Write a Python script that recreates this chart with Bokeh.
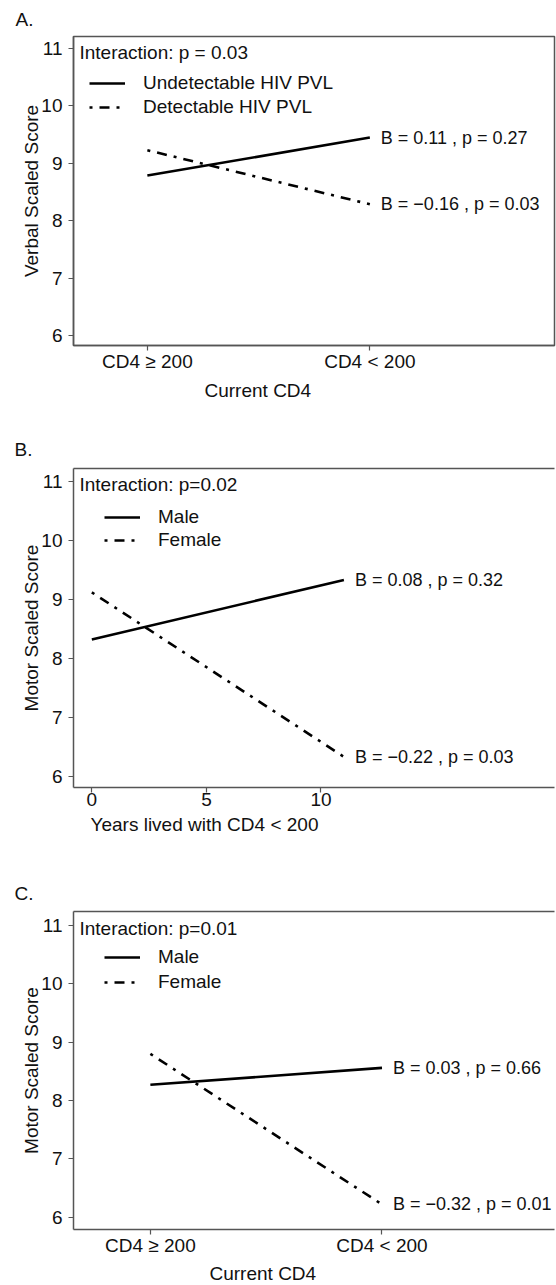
from bokeh.plotting import figure
from bokeh.models import Range1d, FixedTicker, LinearAxis, Legend, LegendItem, Label, Title
from bokeh.layouts import column
from bokeh.embed import file_html
from bokeh.resources import INLINE
from bokeh.core.properties import value

FONT = "Liberation Sans"
FS = "19px"
NOTE_FS = "18px"
GRAY = "#555555"
TXT = "#111111"
DASHDOT = "3 7 10 7"

# ---------------- data ----------------
# Panel A
a_x = [0, 1]
a_tick_labels = ["CD4 \u2265 200", "CD4 < 200"]
a_undetectable = [8.79, 9.45]
a_detectable = [9.23, 8.29]
a_series_names = ["Undetectable HIV PVL", "Detectable HIV PVL"]
a_notes = ["B = 0.11 , p = 0.27", "B = \u22120.16 , p = 0.03"]
a_interaction = "Interaction: p = 0.03"

# Panel B
b_years = [0, 11]
b_ticks = [0, 5, 10]
b_male = [8.32, 9.33]
b_female = [9.12, 6.33]
b_series_names = ["Male", "Female"]
b_notes = ["B = 0.08 , p = 0.32", "B = \u22120.22 , p = 0.03"]
b_interaction = "Interaction: p=0.02"

# Panel C
c_x = [0, 1]
c_tick_labels = ["CD4 \u2265 200", "CD4 < 200"]
c_male = [8.27, 8.56]
c_female = [8.80, 6.22]
c_series_names = ["Male", "Female"]
c_notes = ["B = 0.03 , p = 0.66", "B = \u22120.32 , p = 0.01"]
c_interaction = "Interaction: p=0.01"

y_ticks = [6, 7, 8, 9, 10, 11]


def make_panel(letter, xs, ys1, ys2, names, notes, interaction, xticks, xlabels,
               ylabel, xtitle, xr, yr, W, H, borders, legend_xy, legend_spacing,
               letter_offset, letter_standoff, xtitle_offset, xtitle_standoff,
               inter_yoff, outline):
    left, right, top, bottom = borders
    p = figure(width=W, height=H, x_range=Range1d(*xr), y_range=Range1d(*yr),
               output_backend="svg", toolbar_location=None,
               min_border_left=left, min_border_right=right,
               min_border_top=top, min_border_bottom=bottom)
    p.grid.visible = False
    p.background_fill_color = "white"
    p.border_fill_color = "white"

    xa = p.xaxis[0]
    ya = p.yaxis[0]
    for ax in (xa, ya):
        ax.axis_line_color = GRAY
        ax.axis_line_width = 1.5
        ax.major_tick_line_color = GRAY
        ax.major_tick_line_width = 1.2
        ax.major_tick_in = 0
        ax.major_tick_out = 5
        ax.minor_tick_line_color = None
        ax.major_label_text_font = FONT
        ax.major_label_text_font_size = FS
        ax.major_label_text_color = TXT
    xa.ticker = FixedTicker(ticks=xticks)
    if xlabels is not None:
        xa.major_label_overrides = {t: l for t, l in zip(xticks, xlabels)}
    xa.major_label_standoff = 0
    ya.ticker = FixedTicker(ticks=y_ticks)
    ya.major_label_standoff = 6
    ya.axis_label = ylabel
    ya.axis_label_text_font = FONT
    ya.axis_label_text_font_size = FS
    ya.axis_label_text_font_style = "normal"
    ya.axis_label_text_color = TXT
    ya.axis_label_standoff = -4

    if outline:
        p.outline_line_color = GRAY
        p.outline_line_width = 1.5
    else:
        # frame runs past the right edge: draw only its top border
        p.outline_line_color = None
        top_axis = LinearAxis(ticker=FixedTicker(ticks=[]), major_label_text_font_size="0px",
                              major_tick_out=0, major_tick_in=0, minor_tick_out=0, minor_tick_in=0,
                              major_label_standoff=0, axis_line_color=GRAY, axis_line_width=1.5)
        p.add_layout(top_axis, "above")

    r1 = p.line(xs, ys1, line_color="black", line_width=2.6)
    r2 = p.line(xs, ys2, line_color="black", line_width=2.6, line_dash=DASHDOT)

    p.text(x=[xs[-1], xs[-1]], y=[ys1[-1], ys2[-1]], text=notes, x_offset=11,
           text_baseline="middle", text_align="left", text_font=value(FONT),
           text_font_size=value(NOTE_FS), text_color=TXT)

    p.add_layout(Label(x=xr[0], y=yr[1], x_offset=6, y_offset=inter_yoff, text=interaction,
                       text_baseline="middle", text_font=FONT, text_font_size=FS,
                       text_color=TXT))

    legend = Legend(items=[LegendItem(label=names[0], renderers=[r1]),
                           LegendItem(label=names[1], renderers=[r2])],
                    location=legend_xy, glyph_width=36, glyph_height=22, label_height=22,
                    label_standoff=18, spacing=legend_spacing, padding=0, margin=0,
                    border_line_color=None, background_fill_alpha=0,
                    label_text_font=FONT, label_text_font_size=FS, label_text_color=TXT)
    p.add_layout(legend)

    p.title.text = letter
    p.title.align = "left"
    p.title.offset = letter_offset
    p.title.standoff = letter_standoff
    p.title.text_font = FONT
    p.title.text_font_size = FS
    p.title.text_font_style = "normal"
    p.title.text_color = TXT

    p.add_layout(Title(text=xtitle, align="left", offset=xtitle_offset, standoff=xtitle_standoff,
                       text_font=FONT, text_font_size=FS, text_font_style="normal",
                       text_color=TXT), "below")
    return p


pA = make_panel("A.", a_x, a_undetectable, a_detectable, a_series_names, a_notes, a_interaction,
                a_x, a_tick_labels, "Verbal Scaled Score", "Current CD4",
                (-0.332, 1.830), (5.83, 11.21), 556, 410, (72, 2, 35, 65), (16, 227), 2,
                -58, 13, 131, 6, -16, True)

pB = make_panel("B.", b_years, b_male, b_female, b_series_names, b_notes, b_interaction,
                b_ticks, None, "Motor Scaled Score", "Years lived with CD4 < 200",
                (-0.80, 20.19), (5.81, 11.22), 556, 445, (73, 0, 58, 68), (31, 236), 1,
                -59, 17, 17, 6, -16, False)

pC = make_panel("C.", c_x, c_male, c_female, c_series_names, c_notes, c_interaction,
                c_x, c_tick_labels, "Motor Scaled Score", "Current CD4",
                (-0.332, 1.745), (5.79, 11.24), 556, 430, (73, 0, 56, 55), (31, 236), 3,
                -59, 16, 136, 4, -17, False)

layout = column(pA, pB, pC, spacing=0)
open("out.html", "w").write(file_html(layout, INLINE))
